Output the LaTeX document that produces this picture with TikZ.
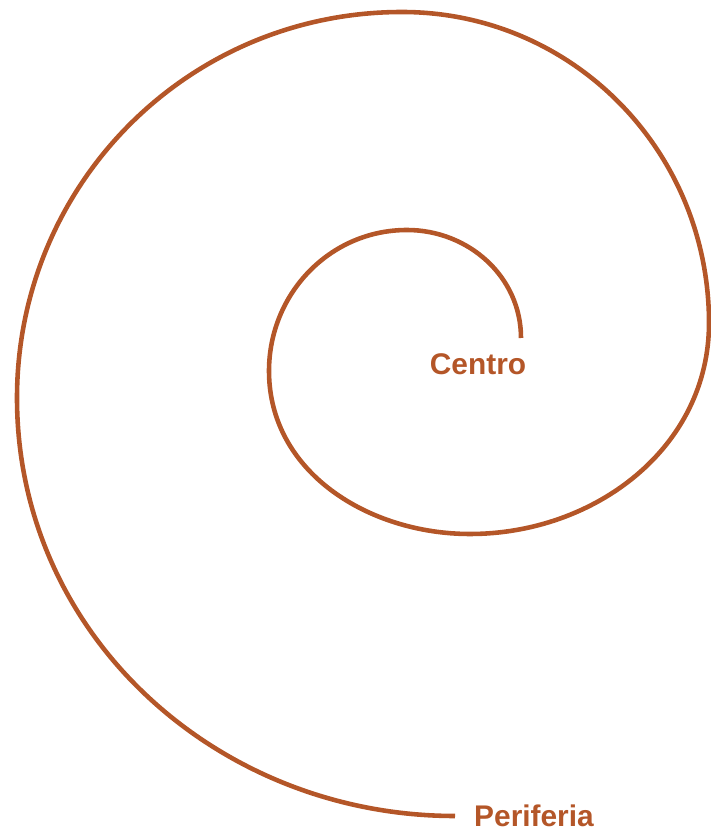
\documentclass[tikz,border=0pt]{standalone}
\usepackage{fontspec}
\setmainfont{Liberation Sans}
\definecolor{terra}{RGB}{180,86,40}
\begin{document}
\begin{tikzpicture}[x=0.02cm, y=0.02cm, every node/.style={text=terra, font=\fontsize{17}{20}\selectfont\bfseries, inner sep=0pt}]
\useasboundingbox (0,0) rectangle (710,835);
% labels
\node (centro) at (478,471) {Centro};
\node (periferia) at (534,19) {Periferia};
% spiral
\coordinate (inicio) at (521,497);
\coordinate (fim) at (455,19);
\draw[terra, line width=2.6pt]
  (inicio) to[out=90,in=0] (407,605)
  to[out=180,in=90] (269,464)
  to[out=270,in=180] (470,301)
  to[out=0,in=270] (709,512)
  to[out=90,in=0] (402,823)
  to[out=180,in=90] (17,437)
  to[out=270,in=180] (fim);
\end{tikzpicture}
\end{document}
